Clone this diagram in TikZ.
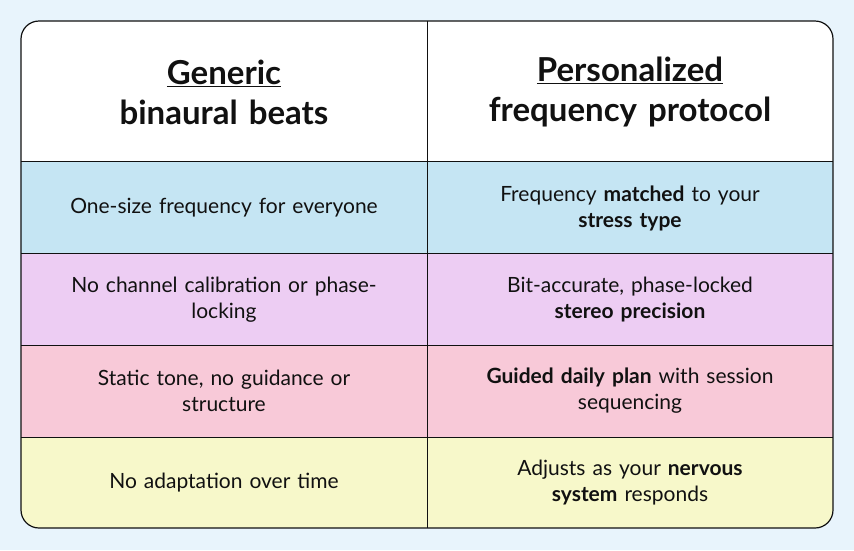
\documentclass[tikz,border=0pt]{standalone}
\usepackage{fontspec}
\setmainfont{Lato}
\usetikzlibrary{positioning}
\definecolor{bgblue}{HTML}{E8F4FC}
\definecolor{rowA}{HTML}{C5E5F3}
\definecolor{rowB}{HTML}{EDCDF3}
\definecolor{rowC}{HTML}{F8C9D8}
\definecolor{rowD}{HTML}{F7F8CA}
\definecolor{ink}{HTML}{111111}
\begin{document}
\begin{tikzpicture}[x=1pt,y=-1pt,
    cell/.style={align=center, text width=380pt, font=\fontsize{21}{26}\selectfont, text=ink},
    head/.style={align=center, text width=400pt, font=\fontsize{33}{40}\selectfont\bfseries, text=ink}]
    \fill[bgblue] (0,0) rectangle (854,550);
    \useasboundingbox (0,0) rectangle (854,550);
    \begin{scope}
        \clip[rounded corners=18pt] (21,21) rectangle (833,528);
        \fill[white] (21,21) rectangle (833,161);
        \fill[rowA] (21,161) rectangle (833,253);
        \fill[rowB] (21,253) rectangle (833,345);
        \fill[rowC] (21,345) rectangle (833,437);
        \fill[rowD] (21,437) rectangle (833,528);
    \end{scope}
    \draw[ink, line width=1.2pt, rounded corners=18pt] (21,21) rectangle (833,528);
    \foreach \y in {161,253,345,437} {
        \draw[ink, line width=1pt] (21,\y) -- (833,\y);
    }
    \draw[ink, line width=1pt] (427,21) -- (427,528);
    % header
    \node[head] (hgen) at (224,92) {\underline{Generic}\\binaural beats};
    \node[head] (hper) at (630,92) {\underline{Personalized}\\frequency protocol};
    % rows
    \node[cell] (g1) at (224,208) {One-size frequency for everyone};
    \node[cell] (p1) at (630,208) {Frequency \textbf{matched} to your\\\textbf{stress type}};
    \node[cell] (g2) at (224,300) {No channel calibration or phase-\\locking};
    \node[cell] (p2) at (630,300) {Bit-accurate, phase-locked\\\textbf{stereo precision}};
    \node[cell] (g3) at (224,391) {Static tone, no guidance or\\structure};
    \node[cell] (p3) at (630,391) {\textbf{Guided daily plan} with session\\sequencing};
    \node[cell] (g4) at (224,483) {No adaptation over time};
    \node[cell] (p4) at (630,483) {Adjusts as your \textbf{nervous}\\\textbf{system} responds};
\end{tikzpicture}
\end{document}
